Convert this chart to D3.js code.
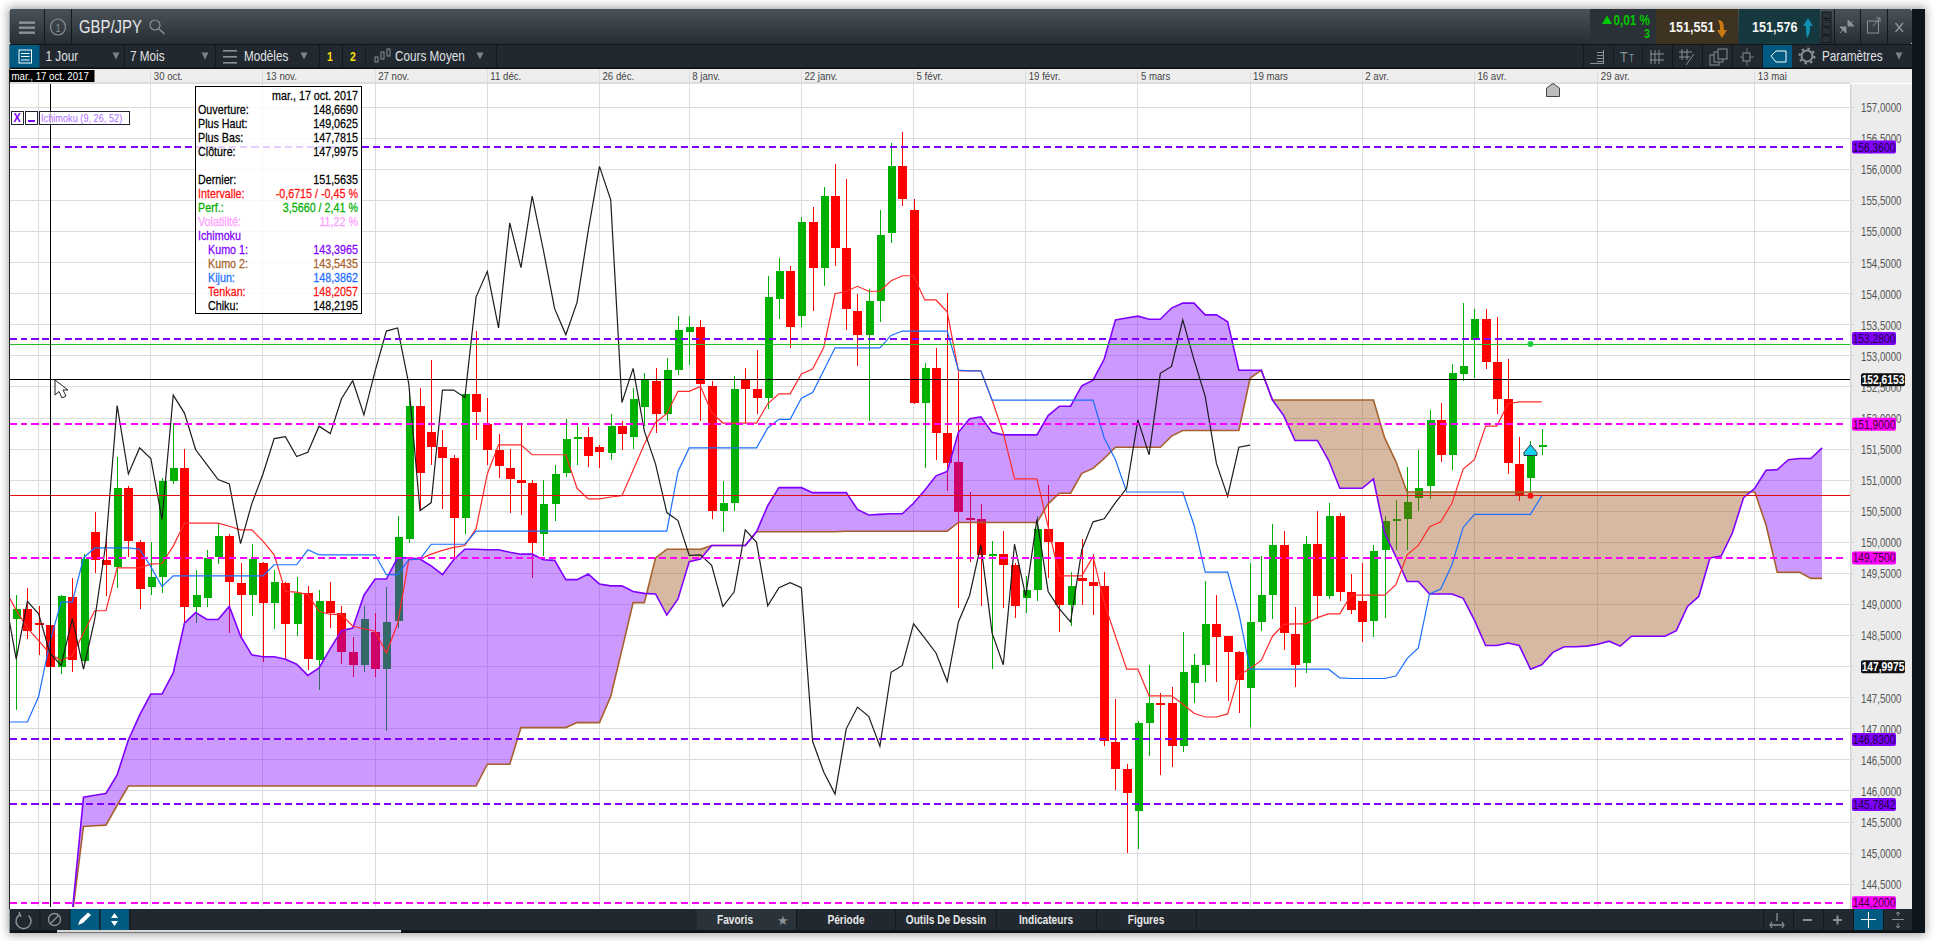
<!DOCTYPE html>
<html>
<head>
<meta charset="utf-8">
<title>GBP/JPY</title>
<script src="https://cdn.jsdelivr.net/npm/d3@7"></script>
<style>
  html, body { margin: 0; padding: 0; background: #fff; overflow: hidden; }
  svg { display: block; font-family: "Liberation Sans", Arial, sans-serif; }
</style>
</head>
<body>
<svg id="chart" width="1936" height="941"></svg>
<script>
// chandeliers, un par seance
const opens = [
  148.77,148.93,148.70,148.669,148.00,149.12,148.09,150.17,149.72,149.61,
  150.87,150.01,149.28,149.45,150.98,151.20,148.96,149.10,149.76,150.11,
  149.35,149.16,149.66,149.02,149.35,148.68,149.18,148.10,149.05,148.87,
  148.23,148.02,148.56,147.97,148.73,150.06,152.19,151.77,151.53,151.36,
  150.39,152.38,151.90,151.49,151.20,151.00,150.95,150.13,150.61,151.11,
  151.68,151.69,151.54,151.43,151.88,151.70,152.17,152.59,152.06,152.78,
  153.38,153.46,152.52,150.51,150.64,152.63,152.46,152.33,153.92,154.37,
  153.65,155.15,154.42,155.57,154.73,153.73,153.34,153.88,154.97,156.06,
  155.34,152.25,152.81,151.76,151.30,150.39,150.37,149.80,149.81,149.64,
  149.11,149.23,150.22,150.01,149.00,149.42,149.37,149.29,146.79,146.36,
  145.68,147.10,147.41,147.41,146.72,147.73,148.02,148.69,148.49,148.23,
  147.66,148.72,149.15,149.95,148.52,148.06,149.98,149.14,150.43,149.20,
  149.05,148.73,149.87,150.35,150.38,150.72,150.90,151.97,151.41,152.71,
  153.26,153.60,152.90,152.31,151.26,151.03,151.55
];
const highs = [
  149.16,149.26,148.97,149.0625,149.16,149.43,149.82,150.49,150.08,151.38,
  150.90,150.03,150.00,151.04,151.92,151.50,149.56,149.88,150.30,150.14,
  149.67,149.98,149.69,149.56,149.37,149.45,149.30,149.24,149.37,148.98,
  148.48,148.98,148.87,149.28,150.43,152.39,152.48,152.94,151.80,151.41,
  152.42,153.40,152.32,151.75,151.50,151.89,151.00,151.01,151.25,151.99,
  151.91,151.86,151.57,152.07,151.96,152.49,152.72,152.81,152.96,153.65,
  153.65,153.57,152.59,150.99,152.67,152.80,153.09,154.28,154.57,154.44,
  155.24,155.39,155.71,156.08,155.84,154.00,154.07,155.34,156.43,156.60,
  155.53,152.89,153.12,154.02,152.74,150.81,150.62,150.02,150.18,149.66,
  149.46,150.43,150.92,150.01,149.52,150.05,149.82,149.52,147.48,146.44,
  147.13,148.02,147.57,147.67,148.55,148.21,149.38,149.16,148.50,148.25,
  149.67,149.78,150.29,150.19,148.96,150.11,150.50,150.64,150.47,149.49,
  149.67,149.95,150.42,150.68,151.21,151.49,152.13,152.24,152.87,153.85,
  153.76,153.76,153.63,152.95,151.70,151.63,151.83
];
const lows = [
  147.30,148.45,148.18,147.7815,147.89,147.91,148.06,149.50,149.13,149.26,
  149.76,148.92,149.16,149.18,150.94,148.70,148.70,148.96,149.65,148.54,
  148.45,148.82,148.07,148.60,148.13,148.50,147.95,147.63,148.63,148.04,
  147.83,147.92,147.84,146.97,148.63,149.99,150.52,151.25,150.53,149.76,
  150.13,151.64,151.24,151.03,150.47,150.44,149.43,149.78,150.35,151.05,
  151.25,151.21,151.19,151.32,151.48,151.51,151.88,151.76,151.96,152.70,
  152.86,151.95,150.37,150.17,150.51,151.92,152.06,152.14,153.60,153.12,
  153.47,153.73,154.12,154.44,153.42,152.83,151.96,153.55,154.82,155.42,
  152.23,151.19,151.33,150.82,148.94,149.68,148.98,147.97,148.95,148.79,
  148.87,149.05,149.43,148.55,148.65,149.00,148.83,146.73,146.02,145.00,
  145.07,146.56,146.25,146.38,146.62,147.42,147.76,147.76,147.45,147.26,
  147.03,148.57,148.77,148.27,147.68,147.90,148.77,149.09,149.05,148.85,
  148.40,148.48,148.79,149.88,149.88,150.50,150.70,151.30,151.17,152.59,
  152.65,152.79,152.07,151.10,150.66,150.74,151.41
];
const closes = [
  148.93,148.58,148.68,147.9975,149.14,148.11,149.74,149.72,149.63,150.87,
  150.02,149.25,149.45,150.98,151.20,148.96,149.16,149.75,150.11,149.36,
  149.16,149.73,149.03,149.37,148.68,149.18,148.13,149.06,148.87,148.23,
  148.02,148.77,147.97,148.72,150.09,152.20,151.11,151.53,151.35,150.39,
  152.38,152.09,151.49,151.23,151.02,150.95,149.99,150.61,151.10,151.67,
  151.69,151.39,151.45,151.88,151.75,152.31,152.61,152.06,152.78,153.41,
  153.46,152.54,150.51,150.64,152.46,152.46,152.33,153.94,154.37,153.46,
  155.15,154.42,155.58,154.73,153.76,153.34,153.88,154.95,156.06,155.52,
  152.25,152.81,151.76,151.28,150.49,150.37,149.80,149.81,149.64,148.98,
  149.23,150.22,150.01,149.00,149.29,149.38,149.29,146.80,146.36,145.96,
  147.10,147.41,147.39,146.72,147.92,148.02,148.69,148.47,148.23,147.78,
  148.72,149.15,149.95,148.54,148.02,149.98,149.14,150.43,149.20,148.91,
  148.72,149.86,150.35,150.37,150.65,150.88,151.97,151.41,152.73,152.84,
  153.60,152.91,152.31,151.27,150.74,151.43,151.56
];

// ichimoku : tenkan, kijun et chiku commencent a la seance -1, les kumo a la seance 3
const lineStart = -1;
const kumoStart = 3;
const tenkan = [
  149.24,
  148.91,148.62,148.42,148.21,148.10,148.18,148.54,148.90,148.90,149.59,
  149.59,149.59,149.65,149.66,149.94,150.31,150.31,150.31,150.31,150.26,
  150.20,150.20,150.02,149.80,149.21,149.20,149.16,148.89,148.84,148.84,
  148.65,148.61,148.57,148.22,148.69,149.72,149.73,149.81,149.87,149.92,
  149.95,150.22,151.10,151.57,151.57,151.57,151.41,151.41,151.41,151.41,
  150.87,150.70,150.70,150.73,150.75,151.16,151.58,151.93,152.07,152.43,
  152.43,152.51,152.09,151.92,151.92,151.92,151.92,152.23,152.39,152.39,
  152.71,152.79,153.14,154.00,154.04,154.12,154.04,154.04,154.21,154.29,
  154.29,153.90,153.90,153.71,152.76,152.76,152.76,152.29,151.76,151.02,
  151.02,151.02,150.25,149.46,149.46,149.46,149.77,149.03,148.49,147.96,
  147.96,147.53,147.53,147.53,147.40,147.25,147.19,147.19,147.24,147.86,
  147.97,148.10,148.49,148.68,148.69,148.69,148.79,148.85,148.85,149.15,
  149.15,149.15,149.15,149.32,149.80,149.95,150.25,150.33,150.63,151.18,
  151.33,151.87,151.87,152.23,152.26,152.26,152.26
];
const kijun = [
  147.11,
  147.11,147.11,147.52,148.39,149.04,149.04,149.75,149.91,149.91,149.91,
  149.91,149.89,149.61,149.29,149.46,149.46,149.46,149.46,149.46,149.46,
  149.46,149.46,149.46,149.64,149.64,149.64,149.88,149.80,149.80,149.80,
  149.80,149.80,149.80,149.48,149.48,149.72,149.73,149.97,149.97,149.97,
  149.97,150.18,150.18,150.18,150.18,150.18,150.18,150.18,150.18,150.18,
  150.18,150.18,150.18,150.18,150.18,150.18,150.18,150.18,150.18,151.14,
  151.52,151.52,151.52,151.52,151.52,151.52,151.52,151.84,151.98,151.98,
  152.32,152.41,152.77,153.13,153.13,153.13,153.13,153.13,153.33,153.40,
  153.40,153.40,153.40,153.40,152.77,152.76,152.76,152.29,152.29,152.29,
  152.29,152.29,152.29,152.29,152.29,152.29,152.29,151.68,151.33,150.81,
  150.81,150.81,150.81,150.81,150.81,150.28,149.52,149.52,149.52,148.86,
  147.96,147.96,147.96,147.96,147.96,147.96,147.96,147.96,147.82,147.81,
  147.81,147.81,147.81,147.85,148.13,148.30,149.17,149.25,149.64,150.24,
  150.45,150.45,150.45,150.45,150.45,150.45,150.75
];
const chiku = [
  149.13,
  148.12,149.05,148.85,148.2195,148.02,148.77,147.96,148.76,149.99,152.20,
  151.10,151.52,151.35,150.37,152.37,152.08,151.49,151.25,151.01,150.94,
  149.98,150.62,151.10,151.67,151.70,151.38,151.45,151.87,151.75,152.31,
  152.60,152.05,152.76,153.40,153.45,152.55,150.51,150.64,152.45,152.45,
  152.33,153.95,154.36,153.45,155.14,154.42,155.57,154.70,153.76,153.34,
  153.86,155.02,156.05,155.51,152.25,152.80,151.79,151.26,150.48,150.35,
  149.79,149.80,149.63,148.97,149.20,150.20,150.00,148.98,149.27,149.35,
  149.27,146.80,146.30,145.95,147.00,147.35,147.20,146.72,147.91,148.02,
  148.69,148.46,148.22,147.76,148.72,149.15,149.96,148.54,148.03,149.97,
  149.13,150.37,149.21,148.93,148.72,149.88,150.33,150.38,150.64,150.87,
  151.97,151.41,152.72,152.83,153.58,152.94,152.35,151.27,150.74,151.53,
  151.5635
];
const kumo1 = [
  143.40,143.55,144.05,
  145.90,145.93,145.96,146.26,
  146.82,147.22,147.56,147.56,147.90,148.70,148.87,148.76,148.76,148.97,
  148.49,148.19,148.16,148.16,148.12,148.04,147.86,147.98,148.29,148.58,
  148.62,149.15,149.41,149.41,149.75,149.75,149.73,149.62,149.48,149.72,
  149.89,149.89,149.88,149.88,149.84,149.81,149.81,149.72,149.71,149.40,
  149.40,149.49,149.33,149.30,149.30,149.21,149.18,149.17,148.83,149.09,
  149.69,149.73,149.95,149.95,149.95,149.95,150.17,150.59,150.88,150.88,
  150.88,150.80,150.80,150.80,150.80,150.53,150.44,150.45,150.46,150.46,
  150.63,150.84,151.07,151.14,151.77,151.99,152.02,151.77,151.73,151.73,
  151.73,151.73,152.04,152.19,152.19,152.52,152.61,152.95,153.58,153.61,
  153.64,153.59,153.59,153.77,153.85,153.85,153.66,153.66,153.55,152.77,
  152.77,152.77,152.29,152.04,151.64,151.64,151.64,151.32,150.87,150.87,
  150.87,151.02,150.15,149.77,149.37,149.37,149.17,149.17,149.17,149.10,
  148.75,148.34,148.34,148.38,148.34,147.96,148.03,148.23,148.32,148.32,
  148.33,148.36,148.41,148.33,148.49,148.49,148.49,148.49,148.58,148.97,
  149.13,149.75,149.78,150.15,150.72,150.87,151.16,151.17,151.33,151.35,
  151.35,151.52
];
const kumo2 = [
  143.54,143.60,144.00,
  145.43,145.44,145.45,145.77,
  146.08,146.08,146.08,146.08,146.08,146.08,146.08,146.08,146.08,146.08,
  146.08,146.08,146.08,146.08,146.08,146.08,146.08,146.08,146.08,146.08,
  146.08,146.08,146.08,146.08,146.08,146.08,146.08,146.08,146.08,146.08,
  146.08,146.08,146.43,146.43,146.43,147.02,147.02,147.02,147.02,147.02,
  147.10,147.10,147.10,147.52,148.27,149.03,149.03,149.75,149.89,149.89,
  149.89,149.89,149.95,149.95,149.95,149.95,150.17,150.17,150.17,150.17,
  150.17,150.17,150.17,150.17,150.18,150.18,150.18,150.18,150.18,150.18,
  150.18,150.18,150.18,150.18,150.32,150.32,150.32,150.32,150.32,150.32,
  150.32,150.32,150.62,150.79,150.79,151.11,151.19,151.35,151.53,151.53,
  151.53,151.53,151.53,151.71,151.80,151.80,151.80,151.80,151.80,151.80,
  152.64,152.77,152.29,152.29,152.29,152.29,152.29,152.29,152.29,152.29,
  152.29,152.29,151.68,151.30,150.81,150.81,150.81,150.81,150.81,150.81,
  150.81,150.81,150.81,150.81,150.81,150.81,150.81,150.81,150.81,150.81,
  150.81,150.81,150.81,150.81,150.81,150.81,150.81,150.81,150.81,150.81,
  150.81,150.81,150.81,150.81,150.81,150.81,150.28,149.52,149.52,149.52,
  149.42,149.42
];

// axes
const priceTicks = [157,156.5,156,155.5,155,154.5,154,153.5,153,152.5,152,151.5,151,150.5,150,149.5,149,148.5,148,147.5,147,146.5,146,145.5,145,144.5];
const dateIdx = [2,12,22,32,42,52,60,70,80,90,100,110,120,130,141,155];
const dateLabels = ['','30 oct.','13 nov.','27 nov.','11 déc.','26 déc.','8 janv.','22 janv.','5 févr.','19 févr.','5 mars','19 mars','2 avr.','16 avr.','29 avr.','13 mai'];

// niveaux traces a la main
const purpleLevels = [156.36,153.28,146.83,145.7842];
const magentaLevels = [151.90,149.75,144.20];
const buyLevel = 153.19;
const sellLevel = 150.75;
const lastHigh = 152.6153;
const crossIdx = 3;
const tradeIdx = 135;

const infoRows = [
  ['', 'mar., 17 oct. 2017', '#000', 0],
  ['Ouverture:', '148,6690', '#000', 0],
  ['Plus Haut:', '149,0625', '#000', 0],
  ['Plus Bas:', '147,7815', '#000', 0],
  ['Clôture:', '147,9975', '#000', 0],
  null,
  ['Dernier:', '151,5635', '#000', 0],
  ['Intervalle:', '-0,6715 / -0,45 %', '#ff1010', 0],
  ['Perf.:', '3,5660 / 2,41 %', '#00b000', 0],
  ['Volatilité:', '11,22 %', '#ffa0ff', 0],
  ['Ichimoku', '', '#8000ff', 0],
  ['Kumo 1:', '143,3965', '#8000ff', 1],
  ['Kumo 2:', '143,5435', '#a8622c', 1],
  ['Kijun:', '148,3862', '#1a6fff', 1],
  ['Tenkan:', '148,2057', '#ff1010', 1],
  ['Chiku:', '148,2195', '#000', 1]
];

const svg = d3.select('#chart');
const defs = svg.append('defs');

const plotL = 9.5, plotR = 1850, plotT = 84, plotB = 907;

const x = d3.scaleLinear().domain([0, 136]).range([16.2, 1541.7]);
const y = d3.scaleLinear().domain([157, 144.5]).range([107.3, 884.2]);
const fmt4 = d => d3.format('.4f')(d).replace('.', ',');

// texte un peu ecrase horizontalement, comme sur la capture
function txt(parent, px, py, str, o) {
  o = o || {};
  const sx = o.sx || 0.84;
  const t = parent.append('text')
    .attr('transform', `translate(${px},${py}) scale(${sx},1)`)
    .attr('font-size', o.size || 12)
    .attr('font-weight', o.weight || 'normal')
    .attr('text-anchor', o.anchor || 'start')
    .attr('fill', o.fill || '#333')
    .text(str);
  if (o.thick) t.attr('stroke', o.fill).attr('stroke-width', o.thick);
  return t;
}
function rect(parent, rx, ry, w, h, fill) {
  return parent.append('rect').attr('x', rx).attr('y', ry).attr('width', w).attr('height', h).attr('fill', fill);
}

// fenetre
const shadow = defs.append('filter').attr('id', 'shadow').attr('x', '-5%').attr('y', '-5%').attr('width', '110%').attr('height', '110%');
shadow.append('feGaussianBlur').attr('stdDeviation', 5);
rect(svg, 8, 7, 1918, 928, '#000').attr('opacity', 0.35).attr('filter', 'url(#shadow)');
rect(svg, 9, 9, 1903, 924, '#fff');
rect(svg, 1912, 9, 13, 924, '#0d161c');

// bandeau des dates et panneau des prix
rect(svg, 9.5, 69, 1902.5, 14, '#eeeeee');
rect(svg, 9.5, 82, 1840.5, 2, '#dddddd');
rect(svg, plotR, 84, 62, 825, '#ececec');
rect(svg, plotR, 84, 1.5, 825, '#d4d4d4');

// grille
const grid = svg.append('g').attr('shape-rendering', 'crispEdges');
grid.selectAll('line.h').data(priceTicks).enter().append('line')
  .attr('x1', plotL).attr('x2', plotR + 4)
  .attr('y1', d => y(d)).attr('y2', d => y(d))
  .attr('stroke', '#dcdcdc').attr('stroke-width', 1);
grid.selectAll('line.v').data(dateIdx).enter().append('line')
  .attr('x1', d => x(d)).attr('x2', d => x(d))
  .attr('y1', (d, i) => i === 0 ? plotT : 70).attr('y2', plotB)
  .attr('stroke', '#dcdcdc').attr('stroke-width', 1);

const clip = defs.append('clipPath').attr('id', 'plotClip');
clip.append('rect').attr('x', plotL).attr('y', plotT).attr('width', plotR - plotL).attr('height', plotB - plotT);

const plot = svg.append('g').attr('clip-path', 'url(#plotClip)');

// chandeliers
const up = '#00b000', down = '#ff0000';
const candles = plot.append('g').attr('shape-rendering', 'crispEdges');
const bars = candles.selectAll('g').data(opens).enter().append('g');
bars.append('line')
  .attr('x1', (d, i) => Math.round(x(i)) + 0.5).attr('x2', (d, i) => Math.round(x(i)) + 0.5)
  .attr('y1', (d, i) => y(highs[i])).attr('y2', (d, i) => y(lows[i]))
  .attr('stroke', (d, i) => closes[i] >= d ? up : down);
bars.append('rect')
  .attr('x', (d, i) => Math.round(x(i)) + (closes[i] >= d ? -3.5 : -4))
  .attr('width', (d, i) => closes[i] >= d ? 8 : 9)
  .attr('y', (d, i) => y(Math.max(d, closes[i])))
  .attr('height', (d, i) => Math.max(1.5, Math.abs(y(d) - y(closes[i]))))
  .attr('fill', (d, i) => closes[i] >= d ? up : down);

// kumo, au dessus des chandeliers
const kumoData = kumo1.map((d, i) => ({ i: i + kumoStart, a: d, b: kumo2[i] }));
const above = d3.area().x(d => x(d.i)).y0(plotT).y1(d => y(d.b));
const below = d3.area().x(d => x(d.i)).y0(plotB + 400).y1(d => y(d.b));
const kumoArea = d3.area().x(d => x(d.i)).y0(d => y(d.b)).y1(d => y(d.a));
defs.append('clipPath').attr('id', 'kumoUp').append('path').attr('d', above(kumoData));
defs.append('clipPath').attr('id', 'kumoDown').append('path').attr('d', below(kumoData));
plot.append('path').attr('d', kumoArea(kumoData)).attr('clip-path', 'url(#kumoUp)').attr('fill', 'rgb(128,0,255)').attr('fill-opacity', 0.4);
plot.append('path').attr('d', kumoArea(kumoData)).attr('clip-path', 'url(#kumoDown)').attr('fill', 'rgb(152,77,25)').attr('fill-opacity', 0.4);

// lignes ichimoku
function drawLine(vals, start, color, width) {
  const l = d3.line().x((d, i) => x(i + start)).y(d => y(d));
  plot.append('path').attr('d', l(vals)).attr('fill', 'none').attr('stroke', color).attr('stroke-width', width);
}
drawLine(kumo2, kumoStart, '#a8602c', 1.6);
drawLine(kumo1, kumoStart, '#8000ff', 1.6);
drawLine(tenkan, lineStart, '#ff2a2a', 1.2);
drawLine(kijun, lineStart, '#1a6fff', 1.2);
drawLine(chiku, lineStart, '#1c1c1c', 1.2);

// niveaux horizontaux
const levels = plot.append('g').attr('shape-rendering', 'crispEdges');
function hline(v, color, dash, w) {
  levels.append('line').attr('x1', plotL).attr('x2', dash ? 1845 : plotR)
    .attr('y1', y(v)).attr('y2', y(v)).attr('stroke', color).attr('stroke-width', w)
    .attr('stroke-dasharray', dash);
}
hline(buyLevel, '#22bb22', null, 1);
hline(sellLevel, '#e01010', null, 1);
hline(lastHigh, '#000', null, 1);
purpleLevels.forEach(v => hline(v, '#8000ff', '7 4', 2));
magentaLevels.forEach(v => hline(v, '#ff00ff', '7 4', 2));

// reticule
levels.append('line').attr('x1', Math.round(x(crossIdx)) + 0.5).attr('x2', Math.round(x(crossIdx)) + 0.5).attr('y1', plotT).attr('y2', plotB).attr('stroke', '#000');

// ordres et fleche
plot.append('circle').attr('cx', x(tradeIdx)).attr('cy', y(buyLevel)).attr('r', 3).attr('fill', '#22cc44');
plot.append('circle').attr('cx', x(tradeIdx)).attr('cy', y(sellLevel)).attr('r', 3).attr('fill', '#ff1010');
const ax = x(tradeIdx), ay = y(closes[tradeIdx]);
plot.append('path').attr('d', `M${ax},${ay - 9} L${ax + 6.5},${ay - 1} V${ay + 2} H${ax - 6.5} V${ay - 1} Z`)
  .attr('fill', '#18d0f0').attr('stroke', '#333').attr('stroke-width', 1);

// bord gauche de la fenetre
rect(svg, 9, 69, 1, 840, '#222');

// curseur
svg.append('path').attr('d', 'M55,380 V395 L59,391.5 L62,398 L66,396 L63,390 L68,390 Z')
  .attr('fill', '#fff').attr('stroke', '#222').attr('stroke-width', 1);

// maison grise en haut
svg.append('path').attr('d', 'M1546.5,96.5 V88 L1553,83.5 L1559.5,88 V96.5 Z').attr('fill', '#bdbdbd').attr('stroke', '#444');

// axe des prix
const priceAxis = d3.axisRight(y).tickValues(priceTicks).tickSize(0).tickFormat(fmt4);
const axisG = svg.append('g').attr('transform', `translate(${plotR},0)`).call(priceAxis);
axisG.select('.domain').remove();
axisG.selectAll('text')
  .attr('x', 0).attr('dy', '0.36em')
  .attr('transform', 'translate(11,0) scale(0.81,1)')
  .attr('font-family', '"Liberation Sans", Arial, sans-serif')
  .attr('font-size', 12).attr('fill', '#555');

// etiquettes de prix
function tag(v, fill, color, label, lx, w, weight) {
  const ty = y(v);
  rect(svg, lx, ty - 6.5, w, 13, fill).attr('rx', 2);
  txt(svg, lx + w / 2, ty + 4.5, label, { size: 12.5, fill: color, anchor: 'middle', sx: 0.82, weight: weight });
}
purpleLevels.forEach(v => tag(v, '#7f00ff', '#1a0040', fmt4(v), 1852, 44));
magentaLevels.forEach(v => tag(v, '#ff00ff', '#3a0030', fmt4(v), 1852, 44));
tag(lastHigh, '#111', '#fff', fmt4(lastHigh), 1861, 44, 'bold');
tag(closes[crossIdx], '#111', '#fff', fmt4(closes[crossIdx]), 1861, 44, 'bold');

// axe des dates
const dateAxis = d3.axisBottom(x).tickValues(dateIdx).tickSize(0).tickFormat((d, i) => dateLabels[i]);
const dateG = svg.append('g').attr('transform', 'translate(0,68)').call(dateAxis);
dateG.select('.domain').remove();
dateG.selectAll('text')
  .attr('y', 0).attr('dy', 0).attr('text-anchor', 'start')
  .attr('transform', 'translate(2.5,12) scale(0.84,1)')
  .attr('font-family', '"Liberation Sans", Arial, sans-serif')
  .attr('font-size', 11.5).attr('fill', '#444');
rect(svg, 9.5, 70, 85, 12, '#000');
txt(svg, 11.5, 80, 'mar., 17 oct. 2017', { size: 11.5, fill: '#fff' });

// infobulle
const info = svg.append('g');
rect(info, 195.5, 86.5, 165.5, 227, 'rgba(255,255,255,0.8)').attr('stroke', '#000').attr('stroke-width', 1).attr('shape-rendering', 'crispEdges');
infoRows.forEach((r, i) => {
  if (!r) return;
  const ry = 100 + i * 14;
  txt(info, r[3] ? 208 : 198, ry, r[0], { size: 12.5, fill: r[2], sx: 0.86, thick: 0.25 });
  txt(info, 358, ry, r[1], { size: 12.5, fill: r[2], anchor: 'end', sx: 0.86, thick: 0.25 });
});

// legende ichimoku
const leg = svg.append('g').attr('shape-rendering', 'crispEdges');
rect(leg, 11.5, 111, 12, 13, '#fff').attr('stroke', '#223');
rect(leg, 25.5, 111, 12, 13, '#fff').attr('stroke', '#223');
rect(leg, 39.5, 111, 90, 13, 'rgba(255,255,255,0.7)').attr('stroke', '#223');
txt(svg, 13.5, 122, 'X', { size: 13, fill: '#7f00ff', weight: 'bold' });
rect(svg, 28, 120, 7, 2, '#7f00ff');
txt(svg, 41, 122, 'Ichimoku (9, 26, 52)', { size: 11.5, fill: '#b06cff', sx: 0.8 });

// barre du haut
const head = defs.append('linearGradient').attr('id', 'head').attr('x1', 0).attr('x2', 0).attr('y1', 0).attr('y2', 1);
head.append('stop').attr('offset', 0).attr('stop-color', '#4a5259');
head.append('stop').attr('offset', 1).attr('stop-color', '#262d33');
rect(svg, 9.5, 9, 1902.5, 35, 'url(#head)').attr('rx', 2);
rect(svg, 9.5, 44, 1902.5, 1, '#10151a');
rect(svg, 9.5, 45, 1902.5, 23, '#212830');
rect(svg, 9.5, 67.5, 1902.5, 1.5, '#0b0f12');

const ui = svg.append('g');
[21.5, 26.5, 31.5].forEach(v => rect(ui, 19, v, 16, 2.4, '#8a9197'));
function vsep(px, y1, y2) { rect(ui, px, y1, 1, y2 - y1, '#14191e'); }
[44, 71].forEach(v => vsep(v, 9, 44));
ui.append('ellipse').attr('cx', 58).attr('cy', 27).attr('rx', 7.5).attr('ry', 8).attr('fill', 'none').attr('stroke', '#8a9197').attr('stroke-width', 1.2);
txt(ui, 58, 31.5, '1', { size: 11, fill: '#8a9197', anchor: 'middle' });
txt(ui, 79, 33, 'GBP/JPY', { size: 17.5, fill: '#e6e8ea', sx: 0.85 });
ui.append('circle').attr('cx', 155).attr('cy', 25).attr('r', 5).attr('fill', 'none').attr('stroke', '#8a9197').attr('stroke-width', 1.2);
ui.append('line').attr('x1', 159).attr('y1', 29).attr('x2', 164.5).attr('y2', 34).attr('stroke', '#8a9197').attr('stroke-width', 1.5);

// ligne outils
rect(ui, 9.5, 45, 30, 22.5, '#005a82');
rect(ui, 19, 50, 12.5, 13, 'none').attr('stroke', '#fff');
[53, 56, 59.5].forEach(v => rect(ui, 21, v, 8.5, 1, '#fff'));
[124, 215, 319, 342, 365, 496].forEach(v => vsep(v, 45, 67));
function tri(px, py, color) { ui.append('path').attr('d', `M${px - 3.5},${py - 3.5} H${px + 3.5} L${px},${py + 3.5} Z`).attr('fill', color || '#7c848a'); }
txt(ui, 45.5, 61, '1 Jour', { size: 14, fill: '#e0e2e4' });
tri(116, 56);
txt(ui, 130, 61, '7 Mois', { size: 14, fill: '#e0e2e4' });
tri(205, 56);
[50, 56, 62].forEach(v => rect(ui, 223, v, 14, 1.6, '#8a9197'));
txt(ui, 244, 61, 'Modèles', { size: 14, fill: '#e0e2e4' });
tri(304, 56);
txt(ui, 330, 61, '1', { size: 12.5, fill: '#ffe000', weight: 'bold', anchor: 'middle' });
txt(ui, 353, 61, '2', { size: 12.5, fill: '#ffe000', weight: 'bold', anchor: 'middle' });
[[375, 57, 5], [381, 52, 7], [387, 49, 7]].forEach(a => rect(ui, a[0], a[1], 3, a[2], 'none').attr('stroke', '#8a9197'));
txt(ui, 395, 61, 'Cours Moyen', { size: 14, fill: '#e0e2e4' });
tri(480, 56);

// cotations a droite
rect(ui, 1590, 9, 66, 35, '#2b3237');
rect(ui, 1656, 9, 82, 35, '#3e3220');
rect(ui, 1739, 9, 81, 35, '#16383f');
ui.append('path').attr('d', 'M1602,24 L1607,15.5 L1612,24 Z').attr('fill', '#00c800');
txt(ui, 1650, 25, '0,01 %', { size: 14, fill: '#00c800', anchor: 'end', weight: 'bold' });
txt(ui, 1650, 38, '3', { size: 13, fill: '#00c800', anchor: 'end', weight: 'bold' });
txt(ui, 1669, 32, '151,551', { size: 15, fill: '#f4f4f4', weight: 'bold' });
txt(ui, 1752, 32, '151,576', { size: 15, fill: '#f4f4f4', weight: 'bold' });
ui.append('path').attr('d', 'M1718,20 C1723,20 1724,24 1724,30 H1727 L1722,38 L1717,30 H1720 C1720,26 1720,24 1718,20').attr('fill', '#c87a10');
ui.append('path').attr('d', 'M1807,38 C1806,34 1806,30 1806,26 H1803 L1808,18 L1813,26 H1810 C1810,30 1810,34 1807,38').attr('fill', '#1090b0');
[12, 20, 28, 36].forEach(v => rect(ui, 1822, v, 9, 6.5, '#2b3237').attr('stroke', '#14191e'));
[1834, 1860, 1887].forEach(v => vsep(v, 9, 44));
ui.append('path').attr('d', 'M1840,33 L1843,30 M1840,27 L1846,27 L1846,33 Z M1853,21 L1850,24 M1848,20 L1848,26 L1854,26 Z').attr('stroke', '#8a9197').attr('stroke-width', 1).attr('fill', '#8a9197');
rect(ui, 1867.5, 21, 11, 12, 'none').attr('stroke', '#8a9197');
ui.append('path').attr('d', 'M1873,26 L1880,18 M1876,18 H1880 V22').attr('stroke', '#8a9197').attr('fill', 'none');
ui.append('path').attr('d', 'M1895.5,23 L1903,32 M1903,23 L1895.5,32').attr('stroke', '#8a9197').attr('stroke-width', 1.5);

// icones ligne outils droite
[1583, 1613, 1642, 1672, 1702, 1732, 1762].forEach(v => vsep(v, 45, 67));
rect(ui, 1590, 63, 14, 1, '#8a9197');
[52, 55, 58, 61].forEach(v => rect(ui, 1597, v, 6, 1, '#8a9197'));
rect(ui, 1603, 50, 1, 13, '#8a9197');
txt(ui, 1620, 62, 'T', { size: 15, fill: '#8a9197' });
txt(ui, 1629, 62, 'T', { size: 10, fill: '#8a9197' });
ui.append('path').attr('d', 'M1651,50 V64 M1659,50 V64 M1650,54 H1664 M1650,60 H1664 M1655,50 V64').attr('stroke', '#8a9197').attr('fill', 'none');
ui.append('path').attr('d', 'M1682,49 V60 M1687,49 V60 M1679,52 H1692 M1679,57 H1690 M1686,65 L1694,54').attr('stroke', '#8a9197').attr('fill', 'none');
[[1710, 55], [1714, 52], [1718, 49]].forEach(a => rect(ui, a[0], a[1], 9, 10, '#212830').attr('stroke', '#8a9197'));
ui.append('path').attr('d', 'M1747,48 V66 M1740,57 H1754').attr('stroke', '#6f767c').attr('fill', 'none');
rect(ui, 1743, 53, 7, 8, '#212830').attr('stroke', '#8a9197');
rect(ui, 1763, 45, 29, 22.5, '#005a82');
ui.append('path').attr('d', 'M1771,56 L1776,51 H1786 V62 H1776 Z').attr('fill', 'none').attr('stroke', '#fff');
ui.append('circle').attr('cx', 1807).attr('cy', 56).attr('r', 5.5).attr('fill', 'none').attr('stroke', '#8a9197').attr('stroke-width', 2);
ui.append('circle').attr('cx', 1807).attr('cy', 56).attr('r', 7.5).attr('fill', 'none').attr('stroke', '#8a9197').attr('stroke-width', 2).attr('stroke-dasharray', '2.5 3.4');
txt(ui, 1822, 61, 'Paramètres', { size: 14, fill: '#e0e2e4' });
tri(1899, 56);

// barre du bas
rect(ui, 9.5, 909, 1902.5, 21, '#212830');
rect(ui, 9.5, 930, 1902.5, 3, '#10151a');
rect(ui, 57, 930, 344, 2.5, '#d8d8d8');
ui.append('path').attr('d', 'M20,914.5 A7.5,7.5 0 1 0 28.5,915.5 M19,912 L21,917').attr('fill', 'none').attr('stroke', '#8a9197').attr('stroke-width', 1.5);
ui.append('circle').attr('cx', 54.5).attr('cy', 919.5).attr('r', 6).attr('fill', 'none').attr('stroke', '#8a9197').attr('stroke-width', 1.4);
ui.append('path').attr('d', 'M50,924 L59,915').attr('stroke', '#8a9197').attr('stroke-width', 1.4);
rect(ui, 70, 909, 29, 21, '#005a82');
rect(ui, 100, 909, 29, 21, '#005a82');
ui.append('path').attr('d', 'M78,925 L80,920 L88,912.5 L91,915 L83,923 Z').attr('fill', '#fff');
ui.append('path').attr('d', 'M111,918 L114.5,913 L118,918 Z M111,921 H118 L114.5,926 Z').attr('fill', '#fff');
[39.5, 69.5, 99.5, 129.5, 697, 796, 895, 996, 1096, 1196, 1763, 1793, 1823, 1853, 1883].forEach(v => vsep(v, 909, 930));
rect(ui, 697, 909, 99, 21, '#2b333a');
txt(ui, 735, 924, 'Favoris', { size: 13, fill: '#e8e8e8', anchor: 'middle', weight: 'bold', sx: 0.78 });
txt(ui, 783, 925, '★', { size: 13, fill: '#8a9197', anchor: 'middle', sx: 1 });
txt(ui, 846, 924, 'Période', { size: 13, fill: '#e8e8e8', anchor: 'middle', weight: 'bold', sx: 0.78 });
txt(ui, 946, 924, 'Outils De Dessin', { size: 13, fill: '#e8e8e8', anchor: 'middle', weight: 'bold', sx: 0.78 });
txt(ui, 1046, 924, 'Indicateurs', { size: 13, fill: '#e8e8e8', anchor: 'middle', weight: 'bold', sx: 0.78 });
txt(ui, 1146, 924, 'Figures', { size: 13, fill: '#e8e8e8', anchor: 'middle', weight: 'bold', sx: 0.78 });
ui.append('path').attr('d', 'M1777,913 V921 M1771,925 H1783 M1772,922 L1770,925 L1772,928 M1782,922 L1784,925 L1782,928').attr('stroke', '#8a9197').attr('fill', 'none').attr('stroke-width', 1.3);
rect(ui, 1803, 919, 9, 2, '#8a9197');
rect(ui, 1833, 919, 9, 2, '#8a9197');
rect(ui, 1836.5, 915.5, 2, 9, '#8a9197');
rect(ui, 1854, 909, 29, 21, '#005a82');
ui.append('path').attr('d', 'M1868.5,912 V928 M1861,919.5 H1876').attr('stroke', '#fff').attr('fill', 'none');
ui.append('path').attr('d', 'M1898,912 V916 M1898,923 V928 M1892,919.5 H1904 M1896,914 L1898,912 L1900,914 M1896,926 L1898,928 L1900,926').attr('stroke', '#8a9197').attr('fill', 'none');
</script>
</body>
</html>
